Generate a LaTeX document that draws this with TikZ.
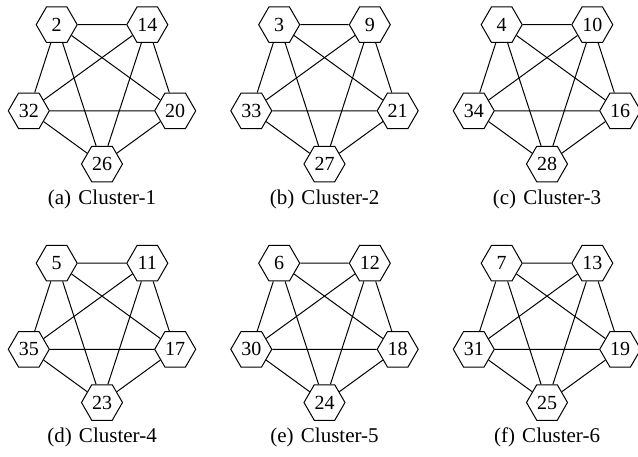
\documentclass[tikz,border=0pt]{standalone}
\usepackage{fontspec}
\setmainfont{Liberation Serif}
\usetikzlibrary{shapes.geometric}

\tikzset{
  hex/.style={draw, regular polygon, regular polygon sides=6, inner sep=0pt,
    minimum size=20.5pt, fill=white, font=\fontsize{10}{12}\selectfont},
  captext/.style={font=\fontsize{10.5}{12}\selectfont},
  link/.style={line width=0.5pt}
}

\begin{document}
\begin{tikzpicture}[x=0.5pt, y=-0.5pt, line width=0.5pt]
  \useasboundingbox (0,0) rectangle (638,456);

  \foreach \cx/\cy/\nA/\nB/\nC/\nD/\nE/\cap in {
      102/87/2/14/20/26/32/{(a)\hspace{1pt} Cluster-1},
      324.5/87/3/9/21/27/33/{(b)\hspace{1pt} Cluster-2},
      547/87/4/10/16/28/34/{(c)\hspace{1pt} Cluster-3},
      102/325.5/5/11/17/23/35/{(d)\hspace{1pt} Cluster-4},
      324.5/325.5/6/12/18/24/30/{(e)\hspace{1pt} Cluster-5},
      547/325.5/7/13/19/25/31/{(f)\hspace{1pt} Cluster-6}}{
    \begin{scope}[shift={(\cx,\cy)}]
      % pentagon, point down
      \node[hex] (n\nA) at (-45.3,-62.3) {\nA};
      \node[hex] (n\nB) at (45.3,-62.3) {\nB};
      \node[hex] (n\nC) at (73.2,23.8) {\nC};
      \node[hex] (n\nD) at (0,77) {\nD};
      \node[hex] (n\nE) at (-73.2,23.8) {\nE};
      \node[captext] (cap\nA) at (0,112) {\cap};

      \path[link]
      (n\nA) edge (n\nB)
      (n\nA) edge (n\nC)
      (n\nA) edge (n\nD)
      (n\nA) edge (n\nE)
      (n\nB) edge (n\nC)
      (n\nB) edge (n\nD)
      (n\nB) edge (n\nE)
      (n\nC) edge (n\nD)
      (n\nC) edge (n\nE)
      (n\nD) edge (n\nE);
    \end{scope}
  }
\end{tikzpicture}
\end{document}
